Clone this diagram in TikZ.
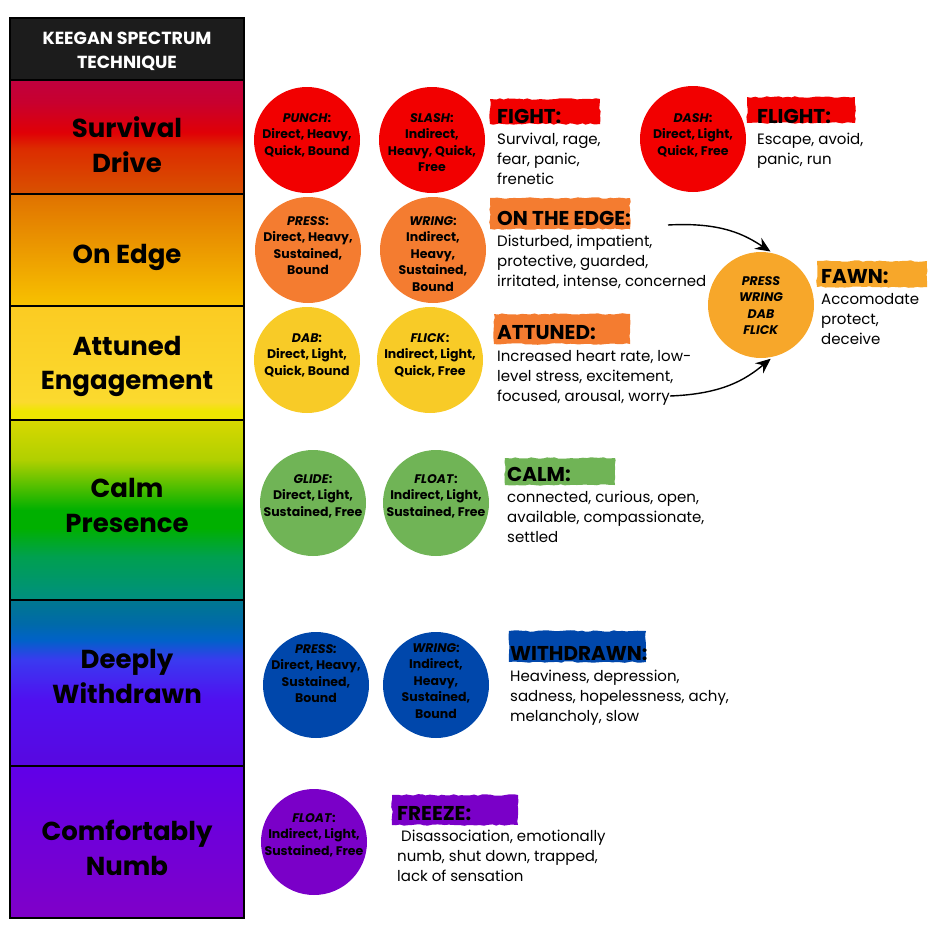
\documentclass[tikz,border=0pt]{standalone}
\usepackage{fontspec}
\setmainfont{Poppins}
\usetikzlibrary{arrows.meta,decorations.pathmorphing}
\definecolor{hdr}{HTML}{1C1C1C}
\definecolor{cred}{HTML}{F20000}
\definecolor{corange}{HTML}{F47C30}
\definecolor{cyellow}{HTML}{F8CB27}
\definecolor{cgreen}{HTML}{70B456}
\definecolor{cblue}{HTML}{0047AB}
\definecolor{cpurple}{HTML}{7A00C8}
\definecolor{cfawn}{HTML}{F7A72A}
% band 1
\definecolor{ba}{HTML}{D95200}\definecolor{bb}{HTML}{DC2C00}\definecolor{bc}{HTML}{E00006}\definecolor{bd}{HTML}{C8002E}\definecolor{be}{HTML}{C0003E}
% band 2
\definecolor{bf}{HTML}{F8C200}\definecolor{bg}{HTML}{E07200}
% band 3
\definecolor{bh}{HTML}{EEE600}\definecolor{bi}{HTML}{FBDA2E}\definecolor{bj}{HTML}{FBCB22}
% band 4
\definecolor{bk}{HTML}{008F80}\definecolor{bl}{HTML}{00A050}\definecolor{bm}{HTML}{00B000}\definecolor{bn}{HTML}{B0D000}\definecolor{bo}{HTML}{D8D800}
% band 5
\definecolor{bp}{HTML}{5808E0}\definecolor{bq}{HTML}{5010F0}\definecolor{br}{HTML}{3A3AF0}\definecolor{bs}{HTML}{0062C8}\definecolor{bt}{HTML}{006AA8}\definecolor{bu}{HTML}{007890}
% band 6
\definecolor{bv}{HTML}{8000C8}\definecolor{bw}{HTML}{6000E8}
\pgfdeclareverticalshading{bandA}{100bp}{color(0bp)=(ba); color(25bp)=(ba); color(45bp)=(bb); color(52bp)=(bc); color(65bp)=(bd); color(75bp)=(be); color(100bp)=(be)}
\pgfdeclareverticalshading{bandB}{100bp}{color(0bp)=(bf); color(25bp)=(bf); color(75bp)=(bg); color(100bp)=(bg)}
\pgfdeclareverticalshading{bandC}{100bp}{color(0bp)=(bh); color(25bp)=(bh); color(29bp)=(bh); color(33bp)=(bi); color(75bp)=(bj); color(100bp)=(bj)}
\pgfdeclareverticalshading{bandD}{100bp}{color(0bp)=(bk); color(25bp)=(bk); color(37bp)=(bl); color(45bp)=(bm); color(50bp)=(bm); color(64bp)=(bn); color(75bp)=(bo); color(100bp)=(bo)}
\pgfdeclareverticalshading{bandE}{100bp}{color(0bp)=(bp); color(25bp)=(bp); color(45bp)=(bq); color(57bp)=(br); color(63bp)=(bs); color(68bp)=(bt); color(75bp)=(bu); color(100bp)=(bu)}
\pgfdeclareverticalshading{bandF}{100bp}{color(0bp)=(bv); color(25bp)=(bv); color(75bp)=(bw); color(100bp)=(bw)}
\tikzset{
  bandbox/.style={draw=black, line width=1.5pt, rectangle, minimum width=234pt, inner sep=0pt},
  bandlabel/.style={font=\fontsize{26}{34.5}\selectfont\bfseries, align=center, anchor=base, inner sep=0pt},
  circ/.style={circle, minimum size=106pt, inner sep=0pt},
  circtext/.style={font=\fontsize{12.5}{16.5}\selectfont\bfseries, align=center, anchor=base, inner sep=0pt},
  heading/.style={font=\fontsize{20}{24}\selectfont\bfseries, anchor=base west, inner sep=0pt},
  body/.style={font=\fontsize{15}{20}\selectfont, align=left, anchor=base west, inner sep=0pt},
  brush/.style={decorate, decoration={random steps, segment length=4pt, amplitude=0.8pt}},
  curvearrow/.style={line width=1.4pt, -{Stealth[length=15pt, width=13pt, inset=5pt]}, shorten >=3pt}
}
\begin{document}
\begin{tikzpicture}[x=1pt, y=-1pt]
\useasboundingbox (0,0) rectangle (938,938);
% left column
\node[bandbox, fill=hdr, minimum height=62pt] (hdr) at (127,49) {};
\node[font=\fontsize{17.5}{23.5}\selectfont\bfseries, text=white, align=center, anchor=base, inner sep=0pt] (hdrtext) at (127,68) {KEEGAN SPECTRUM\\TECHNIQUE};
\node[bandbox, shading=bandA, minimum height=114pt] (b1) at (127,137) {};
\node[bandbox, shading=bandB, minimum height=112pt] (b2) at (127,250) {};
\node[bandbox, shading=bandC, minimum height=114pt] (b3) at (127,363) {};
\node[bandbox, shading=bandD, minimum height=180pt] (b4) at (127,510) {};
\node[bandbox, shading=bandE, minimum height=166pt] (b5) at (127,683) {};
\node[bandbox, shading=bandF, minimum height=152pt] (b6) at (127,842) {};
\node[bandlabel] (l1) at (127,172) {Survival\\Drive};
\node[bandlabel] (l2) at (127,263) {On Edge};
\node[bandlabel] (l3) at (127,389.5) {Attuned\\Engagement};
\node[bandlabel] (l4) at (127,532) {Calm\\Presence};
\node[bandlabel] (l5) at (127,703) {Deeply\\Withdrawn};
\node[bandlabel] (l6) at (127,875) {Comfortably\\Numb};
% circles
\node[circ, fill=cred] (punch) at (307,140) {};
\node[circ, fill=cred] (slash) at (432,140) {};
\node[circ, fill=cred] (dash) at (693,139) {};
\node[circ, fill=corange] (press) at (308,250) {};
\node[circ, fill=corange] (wring) at (433,250) {};
\node[circ, fill=cyellow] (dab) at (307,360) {};
\node[circ, fill=cyellow] (flick) at (430,360) {};
\node[circ, fill=cgreen] (glide) at (313,503) {};
\node[circ, fill=cgreen] (float) at (436,503) {};
\node[circ, fill=cblue] (pressb) at (316,685) {};
\node[circ, fill=cblue] (wringb) at (436,685) {};
\node[circ, fill=cpurple] (floatp) at (314,842) {};
\node[circ, fill=cfawn] (fawn) at (761,305) {};
\node[circtext] (tpunch) at (307,155) {\textit{PUNCH}:\\Direct, Heavy,\\Quick, Bound};
\node[circtext] (tslash) at (432,171.5) {\textit{SLASH}:\\Indirect,\\Heavy, Quick,\\Free};
\node[circtext] (tdash) at (693,155) {\textit{DASH}:\\Direct, Light,\\Quick, Free};
\node[circtext] (tpress) at (308,274.5) {\textit{PRESS}:\\Direct, Heavy,\\Sustained,\\Bound};
\node[circtext] (twring) at (433,291) {\textit{WRING}:\\Indirect,\\Heavy,\\Sustained,\\Bound};
\node[circtext] (tdab) at (307,375) {\textit{DAB}:\\Direct, Light,\\Quick, Bound};
\node[circtext] (tflick) at (430,375) {\textit{FLICK}:\\Indirect, Light,\\Quick, Free};
\node[circtext] (tglide) at (313,516) {\textit{GLIDE}:\\Direct, Light,\\Sustained, Free};
\node[circtext] (tfloat) at (436,516) {\textit{FLOAT}:\\Indirect, Light,\\Sustained, Free};
\node[circtext] (tpressb) at (316,702.5) {\textit{PRESS:}\\Direct, Heavy,\\Sustained,\\Bound};
\node[circtext] (twringb) at (436,718) {\textit{WRING}:\\Indirect,\\Heavy,\\Sustained,\\Bound};
\node[circtext] (tfloatp) at (314,855) {\textit{FLOAT}:\\Indirect, Light,\\Sustained, Free};
\node[circtext] (tfawn) at (761,334.5) {\textit{PRESS}\\\textit{WRING}\\\textit{DAB}\\\textit{FLICK}};
% brush strokes
\fill[cred, brush] (490,99) rectangle (600,124);
\fill[cred, brush] (747,97) rectangle (855,123);
\fill[corange, brush] (490,198) rectangle (630,229);
\fill[corange, brush] (494,314) rectangle (630,344);
\fill[cfawn, brush] (817,261) rectangle (927,287);
\fill[cgreen, brush] (505,458) rectangle (615,485);
\fill[cblue, brush] (509,631) rectangle (646,662);
\fill[cpurple, brush] (392,795) rectangle (518,825);
% headings
\node[heading] (hfight) at (497,123) {FIGHT:};
\node[heading] (hflight) at (757,123) {FLIGHT:};
\node[heading] (hedge) at (497,225) {ON THE EDGE:};
\node[heading] (hatt) at (497,339) {ATTUNED:};
\node[heading] (hfawn) at (821,283) {FAWN:};
\node[heading] (hcalm) at (507,481) {CALM:};
\node[heading] (hwith) at (510,660) {WITHDRAWN:};
\node[heading] (hfreeze) at (397,820) {FREEZE:};
% bodies
\node[body] (dfight) at (497,184) {Survival, rage,\\fear, panic,\\frenetic};
\node[body] (dflight) at (757,164) {Escape, avoid,\\panic, run};
\node[body] (dedge) at (497,286) {Disturbed, impatient,\\protective, guarded,\\irritated, intense, concerned};
\node[body] (datt) at (497,401) {Increased heart rate, low-\\level stress, excitement,\\focused, arousal, worry};
\node[body] (dfawn) at (821,344) {Accomodate\\protect,\\deceive};
\node[body] (dcalm) at (507,542) {connected, curious, open,\\available, compassionate,\\settled};
\node[body] (dwith) at (510,721) {Heaviness, depression,\\sadness, hopelessness, achy,\\melancholy, slow};
\node[body] (dfreeze) at (397,881) {\ Disassociation, emotionally\\numb, shut down, trapped,\\lack of sensation};
% arrows
\coordinate (a1s) at (668,225);
\coordinate (a2s) at (670,396);
\draw[curvearrow] (a1s) .. controls (722,222) and (745,235) .. (fawn.77);
\draw[curvearrow] (a2s) .. controls (722,394) and (745,380) .. (fawn.-77);
\end{tikzpicture}
\end{document}
